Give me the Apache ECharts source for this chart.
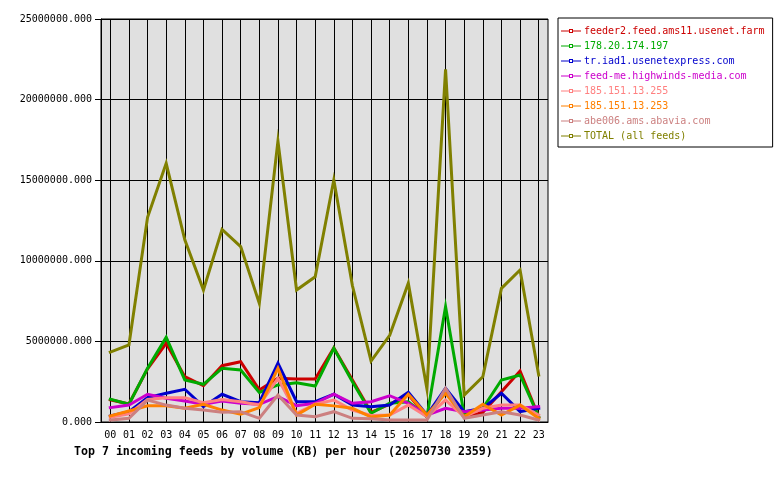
<!DOCTYPE html>
<html>
<head>
<meta charset="utf-8">
<script src="https://cdn.jsdelivr.net/npm/echarts@6/dist/echarts.min.js"></script>
<style>
  html, body { margin: 0; padding: 0; background: #fff; }
  #chart { width: 780px; height: 480px; }
</style>
</head>
<body>
<div id="chart"></div>
<script>
// hours of the day
var hours = ['00', '01', '02', '03', '04', '05', '06', '07', '08', '09', '10', '11',
             '12', '13', '14', '15', '16', '17', '18', '19', '20', '21', '22', '23'];

// KB per hour
var feeder2 = [1380000, 1120000, 3300000, 4880000, 2810000, 2250000, 3490000, 3740000, 1990000, 2710000, 2670000, 2670000,
               4600000, 2600000, 600000, 1100000, 1700000, 300000, 1900000, 300000, 600000, 1880000, 3160000, 330000];
var ip178 = [1410000, 1100000, 3330000, 5250000, 2610000, 2340000, 3330000, 3230000, 1840000, 2300000, 2440000, 2230000,
             4570000, 2500000, 540000, 1160000, 1260000, 330000, 7150000, 430000, 850000, 2610000, 2920000, 330000];
var iad1 = [370000, 640000, 1510000, 1780000, 2030000, 950000, 1720000, 1260000, 1200000, 3640000, 1260000, 1260000,
            1720000, 1050000, 950000, 1050000, 1840000, 430000, 2090000, 640000, 850000, 1780000, 640000, 850000];
var highwinds = [890000, 1050000, 1720000, 1470000, 1300000, 1100000, 1300000, 1160000, 1100000, 1570000, 1010000, 1160000,
                 1720000, 1160000, 1260000, 1630000, 1160000, 430000, 850000, 640000, 740000, 850000, 850000, 950000];
var ip255 = [300000, 500000, 1400000, 1510000, 1510000, 1200000, 1400000, 1260000, 1050000, 2710000, 540000, 1100000,
             1360000, 740000, 410000, 430000, 1050000, 330000, 1360000, 330000, 850000, 1050000, 1050000, 430000];
var ip253 = [370000, 680000, 1010000, 1010000, 850000, 1100000, 740000, 480000, 890000, 3330000, 430000, 1100000,
             1000000, 850000, 310000, 430000, 1720000, 430000, 1780000, 330000, 1100000, 430000, 1050000, 230000];
var abe006 = [120000, 230000, 1360000, 1050000, 850000, 740000, 600000, 640000, 230000, 1670000, 430000, 330000,
              640000, 230000, 200000, 120000, 120000, 120000, 2090000, 230000, 430000, 640000, 430000, 120000];
var total = [4340000, 4780000, 12700000, 16050000, 11300000, 8190000, 11950000, 10880000, 7360000, 17430000, 8190000, 9010000,
             15010000, 8450000, 3780000, 5380000, 8610000, 2050000, 21880000, 1670000, 2810000, 8290000, 9430000, 2920000];

var feeds = [
  { name: 'feeder2.feed.ams11.usenet.farm', color: '#cc0000', data: feeder2 },
  { name: '178.20.174.197', color: '#00aa00', data: ip178 },
  { name: 'tr.iad1.usenetexpress.com', color: '#0000cc', data: iad1 },
  { name: 'feed-me.highwinds-media.com', color: '#cc00cc', data: highwinds },
  { name: '185.151.13.255', color: '#ff8080', data: ip255 },
  { name: '185.151.13.253', color: '#ff8000', data: ip253 },
  { name: 'abe006.ams.abavia.com', color: '#cc8080', data: abe006 },
  { name: 'TOTAL (all feeds)', color: '#808000', data: total }
];

var mono = '"DejaVu Sans Mono", monospace';
// legend icon: short line, tiny hollow square, short line
var legendIcon = 'path://M0,4.5h8v1h-8z M8,3h4v4h-4z M9,4v2h2v-2z M12,4.5h8v1h-8z';

var series = feeds.map(function (f) {
  return {
    name: f.name,
    type: 'line',
    data: f.data,
    color: f.color,
    showSymbol: false,
    z: 3,
    lineStyle: { width: 3, color: f.color, cap: 'square', join: 'miter' },
    emphasis: { disabled: true }
  };
});

// vertical grid lines through each hour
series.unshift({
  name: 'hour-grid',
  type: 'line',
  data: [],
  silent: true,
  markLine: {
    silent: true,
    z: 1,
    symbol: ['none', 'none'],
    label: { show: false },
    lineStyle: { color: '#000', type: 'solid', width: 1 },
    emphasis: { disabled: true },
    data: hours.map(function (h) { return { xAxis: h }; })
  }
});

var chart = echarts.init(document.getElementById('chart'));

chart.setOption({
  animation: false,
  backgroundColor: '#fff',
  title: {
    text: 'Top 7 incoming feeds by volume (KB) per hour (20250730 2359)',
    left: 74,
    top: 446,
    padding: 0,
    textStyle: { fontFamily: mono, fontSize: 11.6, fontWeight: 'bold', color: '#000' }
  },
  legend: {
    orient: 'vertical',
    left: 558,
    top: 18,
    padding: [8, 8, 6, 3],
    itemGap: 5,
    itemWidth: 20,
    itemHeight: 10,
    icon: legendIcon,
    borderColor: '#000',
    borderWidth: 1,
    borderRadius: 0,
    backgroundColor: '#fff',
    textStyle: { fontFamily: mono, fontSize: 10, padding: [0, 0, 0, -2] },
    data: feeds.map(function (f) {
      return { name: f.name, textStyle: { color: f.color } };
    })
  },
  grid: {
    left: 101,
    right: 232,
    top: 19,
    bottom: 58,
    show: true,
    backgroundColor: '#e0e0e0',
    borderColor: '#000',
    borderWidth: 1
  },
  xAxis: {
    type: 'category',
    data: hours,
    boundaryGap: true,
    axisLine: { lineStyle: { color: '#000', width: 1 } },
    axisTick: { alignWithLabel: true, length: 5, lineStyle: { color: '#000' } },
    axisLabel: { fontFamily: mono, fontSize: 10, color: '#000', margin: 8, interval: 0 },
    splitLine: { show: false }
  },
  yAxis: {
    type: 'value',
    min: 0,
    max: 25000000,
    interval: 5000000,
    axisLine: { show: true, lineStyle: { color: '#000' } },
    axisTick: { show: true, length: 6, lineStyle: { color: '#000' } },
    axisLabel: {
      fontFamily: mono, fontSize: 10, color: '#000', margin: 9,
      formatter: function (v) { return v.toFixed(3); }
    },
    splitLine: { show: true, lineStyle: { color: '#000', width: 1 } }
  },
  series: series
});
</script>
</body>
</html>
